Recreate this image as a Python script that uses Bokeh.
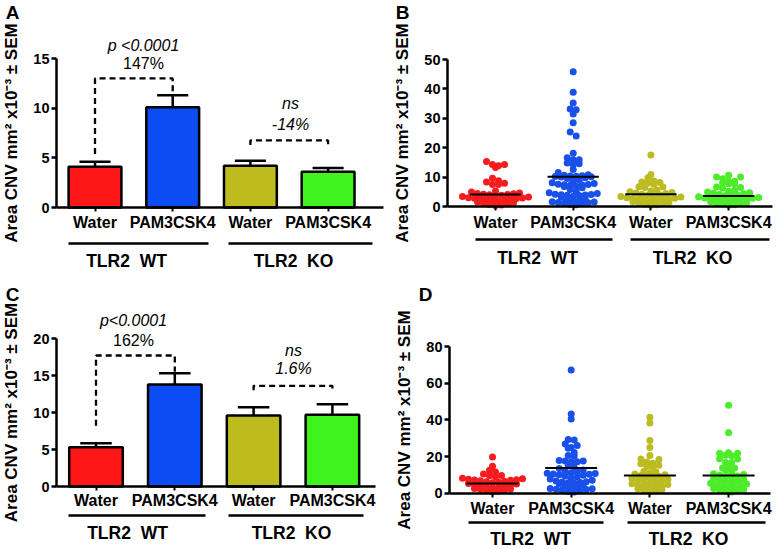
import numpy as np
from bokeh.plotting import figure
from bokeh.models import Range1d, LinearAxis, FixedTicker
from bokeh.layouts import column, row
from bokeh.core.properties import value
from bokeh.embed import file_html
from bokeh.resources import INLINE

FONT = "Liberation Sans"
CATS = ["Water", "PAM3CSK4", "Water", "PAM3CSK4"]
GROUPS = ["TLR2\u00a0\u00a0WT", "TLR2\u00a0\u00a0KO"]
YTITLE = "Area CNV mm² x10⁻³ ± SEM"

BAR_COLORS = ["#ff1616", "#0b4cf5", "#bdbb1e", "#3ef41c"]
DOT_COLORS = ["#f41c1c", "#1a50ea", "#bcbc22", "#4cec2a"]

# Panel A (bars, mean +/- SEM)
A_MEAN = [4.1, 10.1, 4.2, 3.6]
A_SEM = [0.5, 1.2, 0.5, 0.38]
A_TICKS = [0, 5, 10, 15]
# Panel C
C_MEAN = [5.3, 13.8, 9.6, 9.7]
C_SEM = [0.55, 1.5, 1.1, 1.4]
C_TICKS = [0, 5, 10, 15, 20]

# comparison brackets: (left end, top, right end)
A_BRACKETS = [(5.4, 13.0, 11.5), (6.3, 6.75, 6.3)]
C_BRACKETS = [(8.2, 17.7, 15.5), (13.0, 13.6, 13.0)]
A_P = ["p <0.0001", "ns"]
A_PCT = ["147%", "-14%"]
C_P = ["p<0.0001", "ns"]
C_PCT = ["162%", "1.6%"]

# Panel B (individual values)
B_TICKS = [0, 10, 20, 30, 40, 50]
B_WT_WATER = [15.3, 14.3, 14.3, 13.9, 13.3, 9.6, 8.8, 8.3, 7.9, 7.5, 7.5,
              5.3, 4.9, 4.6, 4.4, 4.3, 4.2, 4.1, 4.0, 3.8, 3.6, 3.4, 3.2, 3.0, 2.9,
              2.8, 2.7, 2.6, 2.5, 2.4, 2.2, 2.0, 1.8, 1.5, 1.3, 1.1, 0.9, 0.7, 0.5, 0.3]
B_WT_PAM = [45.8, 38.9, 35.2, 33.2, 32.9, 31.5, 28.5, 25.3, 24.0, 18.1, 16.6, 15.9, 15.9,
            14.8, 14.5, 14.3, 12.6, 11.6,
            10.8, 10.6, 10.5, 10.4, 10.3, 10.2, 10.1, 10.0, 9.8, 9.5, 9.1, 8.6, 8.1, 7.8,
            7.6, 7.5, 7.4, 7.3, 7.2, 7.0, 6.8, 6.4, 5.8, 5.2, 4.7, 4.4, 4.2, 4.1, 4.0,
            3.9, 3.8, 3.7, 3.5, 3.2, 2.8, 2.4, 2.0, 1.8, 1.6, 1.5, 1.4, 1.3, 1.2, 1.0,
            0.8, 0.6]
B_KO_WATER = [17.5, 10.9, 9.8, 8.7, 8.3, 8.2, 7.9, 7.6, 6.7, 6.6, 6.5,
              5.6, 5.3, 5.0, 4.8, 4.6, 4.4, 4.2, 4.0, 3.8, 3.6, 3.4, 3.2, 3.0, 2.8, 2.7,
              2.6, 2.5, 2.4, 2.2, 2.0, 1.8, 1.6, 1.4, 1.2, 1.0, 0.8, 0.6, 0.4]
B_KO_PAM = [10.6, 10.0, 10.0, 9.4, 8.6, 8.6, 8.0, 7.7, 7.7, 6.6, 6.5, 6.3,
            5.5, 5.2, 4.9, 4.7, 4.5, 4.3, 4.1, 3.9, 3.7, 3.5, 3.3, 3.1, 2.9, 2.8, 2.7,
            2.6, 2.5, 2.4, 2.2, 2.0, 1.8, 1.6, 1.4, 1.2, 1.0, 0.8, 0.6, 0.4]

# Panel D
D_TICKS = [0, 20, 40, 60, 80]
D_WT_WATER = [19.7, 14.7, 12.5, 11.5, 10.5, 9.6, 9.5, 9.0,
              8.1, 7.9, 7.6, 7.4, 7.2, 7.0, 6.8, 6.5, 6.2, 6.0, 5.7, 5.3, 5.0, 4.7, 4.4,
              4.1, 3.8, 3.5, 3.2, 2.9, 2.6, 2.3, 2.0, 1.7, 1.4, 1.1, 0.8]
D_WT_PAM = [67.2, 43.2, 40.5, 29.3, 29.0, 26.8, 26.0, 24.9, 24.5, 22.2, 20.6, 20.3, 17.8,
            17.6, 17.5, 17.1, 17.1,
            15.0, 14.2, 13.5, 12.6, 12.0, 11.6, 11.2, 10.9, 10.7, 10.5, 10.3, 10.1, 9.8,
            9.4, 8.9, 8.3, 7.8, 7.0, 6.6, 6.3, 6.1, 5.9, 5.7, 5.5, 5.2, 4.6, 3.9, 3.2,
            2.9, 2.6, 2.4, 2.2, 2.0, 1.7, 1.3, 0.9, 0.6]
D_KO_WATER = [41.5, 38.3, 28.7, 25.0, 20.6, 18.6, 18.4, 17.0, 16.4, 16.0, 15.3, 14.5, 14.4,
              12.0, 11.5, 11.0, 10.5, 10.0, 9.6, 9.2, 8.8, 8.4, 8.0, 7.6, 7.2, 6.8, 6.4,
              6.0, 5.6, 5.2, 4.8, 4.4, 4.0, 3.6, 3.2, 2.8, 2.4, 2.0, 1.6, 1.2, 0.8]
D_KO_PAM = [48.0, 33.0, 22.0, 21.8, 21.8, 20.7, 20.4, 18.8, 18.6, 16.7, 16.7, 13.8, 13.8,
            13.8, 12.4, 11.0, 10.6, 10.2, 9.8, 9.4, 9.0, 8.5, 8.0, 7.5, 7.0, 6.6, 6.2,
            5.8, 5.4, 5.0, 4.6, 4.2, 3.8, 3.4, 3.0, 2.6, 2.2, 1.8, 1.4, 1.0, 0.6]


def make_panel(W, H, c1, ux, y0, uy, axis_px, xend_px, ymax, yticks, letter, letter_xy,
               cat_py, line_py, group_py, lines_px, group_px):
    xr = Range1d(1 - c1 / ux, 1 + (W - c1) / ux)
    yr = Range1d(-(H - y0) / uy, y0 / uy)
    p = figure(width=W, height=H, x_range=xr, y_range=yr,
               x_axis_location=None, y_axis_location=None, toolbar_location=None,
               output_backend="svg", min_border=0, outline_line_color=None)
    p.xgrid.visible = False
    p.ygrid.visible = False

    def X(px):
        return 1 + (px - c1) / ux

    def Y(py):
        return (y0 - py) / uy

    ya = LinearAxis(fixed_location=X(axis_px), bounds=(0, ymax),
                    ticker=FixedTicker(ticks=yticks), axis_label=YTITLE)
    ya.axis_line_width = 2.5
    ya.major_tick_line_width = 2.5
    ya.major_tick_out = 5
    ya.major_tick_in = 0
    ya.minor_tick_out = 0
    ya.minor_tick_in = 0
    ya.major_label_standoff = 2
    ya.major_label_text_font = FONT
    ya.major_label_text_font_style = "bold"
    ya.major_label_text_font_size = "14.5px"
    ya.major_label_text_color = "black"
    ya.axis_label_text_font = FONT
    ya.axis_label_text_font_style = "bold"
    ya.axis_label_text_font_size = "17px"
    ya.axis_label_text_color = "black"
    ya.axis_label_standoff = 9
    p.add_layout(ya, "left")

    xa = LinearAxis(fixed_location=0, bounds=(X(axis_px), X(xend_px)),
                    ticker=FixedTicker(ticks=[1, 2, 3, 4]))
    xa.axis_line_width = 2.5
    xa.major_tick_line_width = 2
    xa.major_tick_out = 4
    xa.major_tick_in = 0
    xa.minor_tick_out = 0
    xa.minor_tick_in = 0
    xa.major_label_text_font_size = "0px"
    xa.major_label_text_color = None
    p.add_layout(xa, "below")

    p.text(x=[1, 2, 3, 4], y=[Y(cat_py)] * 4, text=CATS, text_font=value(FONT),
           text_font_style="bold", text_font_size="16px", text_align="center",
           text_baseline="middle", text_color="black")
    p.segment(x0=[X(a) for a, b in lines_px], x1=[X(b) for a, b in lines_px],
              y0=[Y(line_py)] * 2, y1=[Y(line_py)] * 2, line_color="black", line_width=2.3)
    p.text(x=[X(g) for g in group_px], y=[Y(group_py)] * 2, text=GROUPS,
           text_font=value(FONT), text_font_style="bold", text_font_size="17.5px",
           text_align="center", text_baseline="middle", text_color="black")
    p.text(x=[X(letter_xy[0])], y=[Y(letter_xy[1])], text=[letter], text_font=value(FONT),
           text_font_style="bold", text_font_size="19px", text_align="center",
           text_baseline="middle", text_color="black")
    return p, X, Y


def bar_panel(p, X, Y, means, sems, brackets, ptexts, pcts, ptxt_px, pct_py, ns_py):
    xs = [1, 2, 3, 4]
    tops = [m + s for m, s in zip(means, sems)]
    p.segment(x0=xs, x1=xs, y0=means, y1=tops, line_color="black", line_width=2.5)
    p.segment(x0=[x - 0.2 for x in xs], x1=[x + 0.2 for x in xs], y0=tops, y1=tops,
              line_color="black", line_width=2.5)
    p.vbar(x=xs, top=means, width=0.68, fill_color=BAR_COLORS, line_color="black",
           line_width=2.5)
    for (l, t, r), (a, b) in zip(brackets, [(1, 2), (3, 4)]):
        p.line(x=[a, a, b, b], y=[l, t, t, r], line_color="black", line_width=2.3,
               line_dash="6 4")
    p.text(x=[X(ptxt_px[0]), X(ptxt_px[1])], y=[Y(pct_py[0]), Y(ns_py[0])], text=ptexts,
           text_font=value(FONT), text_font_style="italic", text_font_size="16px",
           text_align="center", text_baseline="middle", text_color="black")
    p.text(x=[X(ptxt_px[0])], y=[Y(pct_py[1])], text=[pcts[0]], text_font=value(FONT),
           text_font_style="normal", text_font_size="16px", text_align="center",
           text_baseline="middle", text_color="black")
    p.text(x=[X(ptxt_px[1])], y=[Y(ns_py[1])], text=[pcts[1]], text_font=value(FONT),
           text_font_style="italic", text_font_size="16px", text_align="center",
           text_baseline="middle", text_color="black")


def row_offsets(vals, uy, ux, h=5.0, s=6.0):
    """Prism-like column scatter: values in the same band sit side by side."""
    vals = np.asarray(vals, dtype=float)
    res = np.zeros(len(vals))
    bins = np.floor(vals * uy / h).astype(int)
    for b in np.unique(bins):
        idx = np.where(bins == b)[0]
        idx = idx[np.argsort(vals[idx], kind="stable")]
        n = len(idx)
        if n % 2:
            slots = [0.0] + [sgn * k for k in range(1, n) for sgn in (1, -1)]
        else:
            slots = [sgn * (k - 0.5) for k in range(1, n) for sgn in (1, -1)]
        for j, i in enumerate(idx):
            res[i] = slots[j] * s / ux
    return res


def dot_panel(p, groups, means, uy, ux):
    for k, (vals, col) in enumerate(zip(groups, DOT_COLORS)):
        off = row_offsets(vals, uy, ux)
        p.scatter(x=(k + 1) + off, y=vals, size=7, fill_color=col, line_color=None)
    xs = [1, 2, 3, 4]
    p.segment(x0=[x - 0.33 for x in xs], x1=[x + 0.33 for x in xs], y0=means, y1=means,
              line_color="black", line_width=2)


# ---- Panel A ----
pa, XA, YA = make_panel(390, 270, 94.5, 77.7, 207, 9.93, 56, 383, 15, A_TICKS, "A", (12, 12),
                        222, 243, 260, [(68, 208), (228, 372)], (126, 293))
bar_panel(pa, XA, YA, A_MEAN, A_SEM, A_BRACKETS, A_P, A_PCT, (143, 290), (45, 63), (103, 124))

# ---- Panel B ----
pb, XB, YB = make_panel(386, 270, 105, 77.7, 206, 2.94, 57, 382, 50, B_TICKS, "B", (12, 12),
                        222, 239, 257, [(85, 222), (240, 379)], (147, 302))
dot_panel(pb, [B_WT_WATER, B_WT_PAM, B_KO_WATER, B_KO_PAM], A_MEAN, 2.94, 77.7)

# ---- Panel C ----
pc, XC, YC = make_panel(390, 278, 95.5, 78.8, 216, 7.4, 56, 375, 20, C_TICKS, "C", (12, 24),
                        230, 245, 262, [(68, 205), (228, 363)], (127, 291))
bar_panel(pc, XC, YC, C_MEAN, C_SEM, C_BRACKETS, C_P, C_PCT, (133, 293), (50, 70), (80, 98))

# ---- Panel D ----
pd_, XD, YD = make_panel(386, 278, 102, 78.7, 222.7, 1.833, 59, 380, 80, D_TICKS, "D", (35, 24),
                         238, 252, 268, [(78, 213), (237, 375)], (140, 298))
dot_panel(pd_, [D_WT_WATER, D_WT_PAM, D_KO_WATER, D_KO_PAM], C_MEAN, 1.833, 78.7)

layout = column(row(pa, pb), row(pc, pd_))
open("out.html", "w").write(file_html(layout, INLINE))
